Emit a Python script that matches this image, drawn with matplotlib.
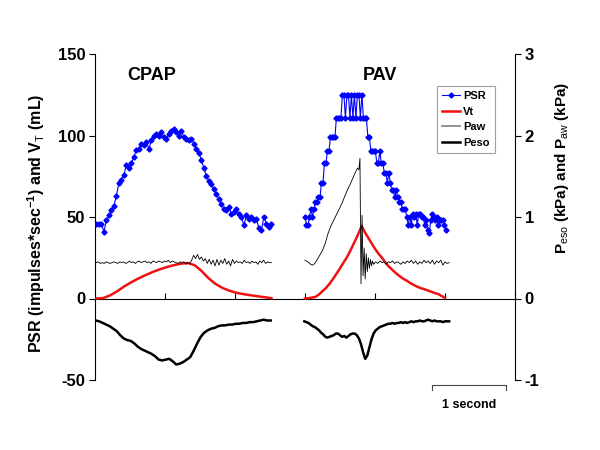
'''
PSR, tidal volume, airway and oesophageal pressure traces under CPAP and PAV
'''
import numpy as np
import matplotlib
matplotlib.use('Agg')
import matplotlib.pyplot as plt
from matplotlib.lines import Line2D

plt.rcParams['font.family'] = ['Liberation Sans', 'DejaVu Sans']
plt.rcParams['mathtext.fontset'] = 'custom'
plt.rcParams['mathtext.rm'] = 'Liberation Sans'
plt.rcParams['mathtext.default'] = 'regular'
plt.rcParams['axes.unicode_minus'] = False

# ---- CPAP breath (time in seconds) ----
cpapPsr = [46, 46, 46, 41, 48, 51, 54, 57, 63, 71, 73, 76, 82, 80, 83, 87, 91, 92, 95, 94,
           96, 92, 97, 100, 101, 100, 102, 99, 98, 101, 103, 104, 102, 100, 103, 99, 98, 97, 98, 95,
           92, 89, 85, 80, 75, 72, 70, 67, 64, 61, 58, 55, 54, 56, 52, 53, 55, 52, 50, 45,
           51, 49, 50, 48, 49, 43, 42, 50, 46, 44, 46]
cpapPsrSpan = (0.02, 2.52)

cpapVt = [0, 0.3, 2, 4.5, 7.5, 10, 12.3, 14.3, 16.2, 17.8, 19.2, 20.4, 21.3, 21.8,
          20.5, 17, 12.5, 9, 6.5, 4.8, 3.5, 2.7, 2, 1.4, 0.8, 0.2]
cpapVtSpan = (0.02, 2.52)

cpapPaw = [0.44, 0.45, 0.43, 0.44, 0.43, 0.45, 0.44, 0.43, 0.44, 0.45,
           0.44, 0.43, 0.45, 0.44, 0.45, 0.43, 0.44, 0.46, 0.44, 0.45,
           0.43, 0.45, 0.46, 0.44, 0.45, 0.46, 0.44, 0.45, 0.43, 0.46,
           0.45, 0.44, 0.46, 0.45, 0.44, 0.46, 0.45, 0.47, 0.44, 0.46,
           0.45, 0.44, 0.43, 0.45, 0.44, 0.45, 0.42, 0.44, 0.43, 0.47,
           0.53, 0.49, 0.54, 0.48, 0.51, 0.46, 0.49, 0.43, 0.48, 0.42,
           0.47, 0.40, 0.48, 0.41, 0.47, 0.43, 0.49, 0.42, 0.46, 0.40,
           0.48, 0.43, 0.46, 0.44, 0.45, 0.43, 0.47, 0.44, 0.45, 0.43,
           0.46, 0.44, 0.45, 0.42, 0.46, 0.44, 0.47, 0.43, 0.45, 0.44, 0.44]
cpapPawSpan = (0.02, 2.52)

cpapPeso = [-0.27, -0.28, -0.30, -0.32, -0.34, -0.37, -0.40, -0.45, -0.49, -0.51,
            -0.52, -0.55, -0.59, -0.62, -0.64, -0.66, -0.68, -0.71, -0.75, -0.76,
            -0.75, -0.74, -0.77, -0.81, -0.80, -0.78, -0.75, -0.72, -0.64, -0.55,
            -0.47, -0.42, -0.39, -0.37, -0.36, -0.34, -0.33, -0.33, -0.32, -0.32,
            -0.31, -0.31, -0.30, -0.30, -0.29, -0.29, -0.28, -0.27, -0.26, -0.27, -0.27]
cpapPesoSpan = (0.01, 2.51)

# ---- PAV breath ----
pavPsr = [50, 45, 45, 50, 55, 50, 55, 59, 59, 62, 62, 71, 71, 83, 83, 90.5, 90.5, 99, 99, 99,
          99, 111, 111, 111, 111, 125, 125, 111, 125, 125, 111, 125, 111, 125, 111, 125, 125, 111, 125, 111,
          111, 111, 99, 99, 90.5, 90.5, 90.5, 90.5, 83, 83, 90.5, 83, 83, 77, 77, 71, 77, 71, 66.5, 66.5,
          62, 66.5, 62, 59, 59, 55, 55, 55, 50, 45, 50, 45, 52, 50, 52, 45, 52, 52, 50, 50,
          45, 48, 42, 40, 48, 52, 50, 48, 50, 45, 48, 48, 48, 45, 42]
pavPsrSpan = (3.00, 5.01)

pavVtTime = [3.00, 3.05, 3.10, 3.15, 3.20, 3.25, 3.30, 3.35, 3.40, 3.45, 3.50, 3.55, 3.60,
             3.65, 3.70, 3.75, 3.81, 3.85, 3.90, 3.95, 4.00, 4.05, 4.10, 4.15, 4.20, 4.25,
             4.30, 4.35, 4.40, 4.45, 4.50, 4.55, 4.60, 4.65, 4.70, 4.75, 4.80, 4.85, 4.90,
             4.95, 5.00]
pavVt = [0, 0.2, 0.6, 1, 2.5, 4.5, 6.5, 9, 12, 15.2, 18.5, 22, 25.4,
         29.5, 34, 38.5, 44.5, 41, 37.5, 34, 30.5, 27.5, 25, 22, 19.5, 17.5,
         15.5, 13.8, 12.2, 11, 9.6, 8.4, 7.3, 6.4, 5.8, 5, 4.2, 3.4, 2.8,
         1.6, 0.3]

pavPawTime = [3.00, 3.04, 3.08, 3.11, 3.14, 3.17, 3.21, 3.25, 3.29, 3.33, 3.37, 3.41, 3.45,
              3.49, 3.53, 3.57, 3.61, 3.65, 3.69, 3.72, 3.75, 3.77, 3.785,
              3.80, 3.815, 3.83, 3.845, 3.86, 3.875, 3.89, 3.905, 3.92, 3.935, 3.95, 3.965, 3.98,
              4.01, 4.04, 4.07, 4.10, 4.13, 4.16, 4.19, 4.22, 4.25, 4.28, 4.31, 4.34, 4.37,
              4.40, 4.43, 4.46, 4.49, 4.52, 4.55, 4.58, 4.61, 4.64, 4.67, 4.70, 4.73, 4.76,
              4.79, 4.82, 4.85, 4.88, 4.91, 4.94, 4.97, 5.00, 5.03, 5.06]
pavPaw = [0.47, 0.45, 0.42, 0.41, 0.43, 0.47, 0.53, 0.59, 0.68, 0.80, 0.89, 0.96, 1.03,
          1.10, 1.17, 1.26, 1.34, 1.41, 1.49, 1.55, 1.60, 1.58, 1.72,
          0.18, 1.02, 0.28, 0.62, 0.24, 0.55, 0.33, 0.50, 0.37, 0.48, 0.40, 0.46, 0.42,
          0.45, 0.43, 0.46, 0.44, 0.45, 0.42, 0.45, 0.44, 0.46, 0.43, 0.45, 0.44, 0.42,
          0.45, 0.43, 0.46, 0.44, 0.47, 0.43, 0.46, 0.42, 0.45, 0.43, 0.47, 0.44, 0.46,
          0.43, 0.47, 0.42, 0.46, 0.44, 0.47, 0.41, 0.45, 0.43, 0.44]

pavPeso = [-0.28, -0.29, -0.30, -0.32, -0.34, -0.35, -0.37, -0.39, -0.42, -0.44,
           -0.47, -0.48, -0.47, -0.46, -0.45, -0.43, -0.43, -0.45, -0.47, -0.46,
           -0.48, -0.46, -0.44, -0.43, -0.43, -0.45, -0.49, -0.56, -0.66, -0.74,
           -0.70, -0.60, -0.50, -0.43, -0.39, -0.37, -0.35, -0.34, -0.33, -0.32,
           -0.31, -0.31, -0.30, -0.31, -0.30, -0.30, -0.29, -0.30, -0.29, -0.30,
           -0.29, -0.28, -0.29, -0.28, -0.28, -0.27, -0.28, -0.28, -0.27, -0.26,
           -0.27, -0.28, -0.27, -0.28, -0.28, -0.28, -0.29, -0.28, -0.28, -0.28]
pavPesoSpan = (2.99, 5.06)

scaleBarStart = 4.82   # seconds
scaleBarLength = 1.05


def span(values, bounds):
    '''
    Sample times for an evenly sampled trace
    '''
    return np.linspace(bounds[0], bounds[1], len(values))


def main():
    fig = plt.figure(figsize=(6, 4.5), dpi=100)
    ax = fig.add_axes([95/600, 70/450, 420/600, 326/450])
    ax2 = ax.twinx()

    blue = '#0000ff'
    red = '#ee1111'

    # left axis traces
    for vals, bnd in [(cpapPsr, cpapPsrSpan), (pavPsr, pavPsrSpan)]:
        ax.plot(span(vals, bnd), vals, color=blue, lw=0.8, marker='D', ms=2.6,
                mec=blue, mfc=blue, zorder=3)
    ax.plot(span(cpapVt, cpapVtSpan), cpapVt, color=red, lw=1.8, zorder=3)
    ax.plot(pavVtTime, pavVt, color=red, lw=1.8, zorder=3)

    # right axis traces
    ax2.plot(span(cpapPaw, cpapPawSpan), cpapPaw, color='k', lw=0.6)
    ax2.plot(pavPawTime, pavPaw, color='k', lw=0.6)
    ax2.plot(span(cpapPeso, cpapPesoSpan), cpapPeso, color='k', lw=1.8)
    ax2.plot(span(pavPeso, pavPesoSpan), pavPeso, color='k', lw=1.8)

    ax.set_xlim(0, 6)
    ax.set_ylim(-50, 150)
    ax2.set_ylim(-1, 3)

    # spines: x axis sits on zero
    ax.spines['top'].set_visible(False)
    ax.spines['right'].set_visible(False)
    ax.spines['bottom'].set_position(('data', 0))
    for s in ['top', 'bottom', 'left']:
        ax2.spines[s].set_visible(False)
    for s in ['left', 'bottom']:
        ax.spines[s].set_linewidth(0.8)
    ax2.spines['right'].set_linewidth(0.8)

    ax.set_xticks(range(7))
    ax.tick_params(axis='x', direction='in', length=4, width=0.8, labelbottom=False)
    ax.set_yticks([-50, 0, 50, 100, 150])
    ax.tick_params(axis='y', direction='out', length=4, width=0.8, labelsize=12, pad=3)
    ax2.set_yticks([-1, 0, 1, 2, 3])
    ax2.tick_params(axis='y', direction='out', length=4, width=0.8, labelsize=12, pad=3)
    for lbl in ax.get_yticklabels() + ax2.get_yticklabels():
        lbl.set_fontweight('bold')

    ax.set_ylabel(r'PSR (impulses*sec$^{-1}$) and V$_{\mathrm{T}}$ (mL)', fontsize=11.5,
                  fontweight='bold')
    ax.yaxis.set_label_coords(-0.115, 0.48)
    ax2.set_ylabel(r'P$_{\mathrm{eso}}$ (kPa) and P$_{\mathrm{aw}}$ (kPa)', fontsize=11,
                   fontweight='bold')
    ax2.yaxis.set_label_coords(1.09, 0.65)

    ax.text(0.81, 137, 'CPAP', ha='center', va='center', fontsize=13, fontweight='bold')
    ax.text(4.07, 137, 'PAV', ha='center', va='center', fontsize=13, fontweight='bold')

    handles = [Line2D([], [], color=blue, lw=0.8, marker='D', ms=2.5),
               Line2D([], [], color=red, lw=1.8),
               Line2D([], [], color='gray', lw=1.2),
               Line2D([], [], color='k', lw=1.8)]
    leg = ax.legend(handles, ['PSR', 'Vt', 'Paw', 'Peso'], loc='upper left',
                    bbox_to_anchor=(437/600, 1 - 86/450), bbox_transform=fig.transFigure,
                    borderaxespad=0, fancybox=False, handlelength=1.6, handletextpad=0.3,
                    borderpad=0.45, labelspacing=0.5, prop={'size': 8, 'weight': 'bold'})
    leg.get_frame().set_edgecolor('#888888')
    leg.get_frame().set_linewidth(0.8)

    # 1 second scale bar below the axis
    x0, x1 = scaleBarStart, scaleBarStart + scaleBarLength
    ax.plot([x0, x0, x1, x1], [-56, -52.8, -52.8, -56], color='#444444', lw=0.8,
            clip_on=False)
    ax.text((x0 + x1)/2, -65.5, '1 second', ha='center', va='center', fontsize=9,
            fontweight='bold')

    fig.savefig('out.png', dpi=100)


if __name__ == '__main__':
    main()
